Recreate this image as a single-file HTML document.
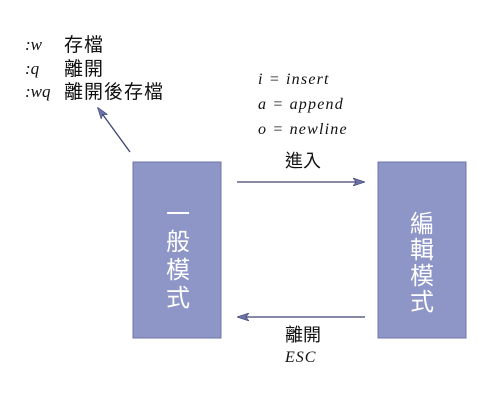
<!DOCTYPE html>
<html><head><meta charset="utf-8"><style>
body{margin:0;background:#fff;width:500px;height:400px;overflow:hidden}
</style></head><body>
<svg width="500" height="400" xmlns="http://www.w3.org/2000/svg">
<defs>
<marker id="ah" markerWidth="12" markerHeight="8" refX="11" refY="4" orient="auto" markerUnits="userSpaceOnUse">
<path d="M0,0 L12,4 L0,8 L3,4 Z" fill="#6a72a8" stroke="#3d4370" stroke-width="0.6"/>
</marker>
</defs>
<rect x="133" y="162" width="88" height="176" fill="#8e96c8" stroke="#6d75a8" stroke-width="1"/>
<rect x="378" y="162" width="88" height="176" fill="#8e96c8" stroke="#6d75a8" stroke-width="1"/>
<g font-family="'Liberation Sans','Noto Sans CJK TC',sans-serif" font-size="24" fill="#fff" text-anchor="middle">
<text x="178" y="222">一</text><text x="178" y="250">般</text><text x="178" y="278">模</text><text x="178" y="306">式</text>
<text x="422" y="232">編</text><text x="422" y="258">輯</text><text x="422" y="284">模</text><text x="422" y="310">式</text>
</g>
<line x1="237" y1="182" x2="364" y2="182" stroke="#3d4370" stroke-width="1.3" marker-end="url(#ah)"/>
<line x1="365" y1="317" x2="238" y2="317" stroke="#3d4370" stroke-width="1.3" marker-end="url(#ah)"/>
<line x1="130" y1="152" x2="98" y2="108" stroke="#3d4370" stroke-width="1.3" marker-end="url(#ah)"/>
<g font-family="'Liberation Serif',serif" font-style="italic" font-size="17" fill="#111">
<text x="25" y="50">:w</text><text x="25" y="74">:q</text><text x="25" y="97">:wq</text>
</g>
<g font-family="'Liberation Serif',serif" font-style="italic" font-size="16" fill="#111">
<text x="258" y="84" letter-spacing="1.2">i = insert</text>
<text x="258" y="109" letter-spacing="1.2">a = append</text>
<text x="258" y="134" letter-spacing="1.2">o = newline</text>
<text x="285" y="362" letter-spacing="1">ESC</text>
</g>
<g font-family="'Liberation Sans','Noto Sans CJK TC',sans-serif" font-size="19" fill="#111" letter-spacing="1">
<text x="64" y="51">存檔</text><text x="64" y="75">離開</text><text x="64" y="98">離開後存檔</text>
</g>
<g font-family="'Liberation Sans','Noto Sans CJK TC',sans-serif" font-size="18" fill="#111">
<text x="285" y="167">進入</text>
<text x="285" y="341">離開</text>
</g>
</svg>
</body></html>
